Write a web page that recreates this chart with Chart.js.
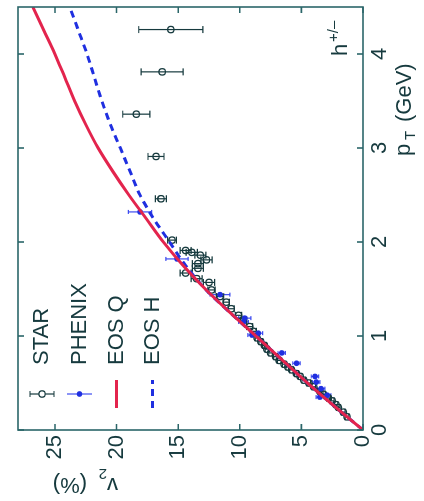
<!DOCTYPE html>
<html>
<head>
<meta charset="utf-8">
<script src="https://cdn.jsdelivr.net/npm/chart.js@4.4.0/dist/chart.umd.min.js"></script>
<style>
html, body { margin: 0; padding: 0; background: #fff; overflow: hidden; width: 424px; height: 501px; }
/* chart is drawn upright (pT across, v2 up) and then turned a quarter left */
#wrap { position: absolute; left: 0; top: 0; width: 501px; height: 424px;
        transform-origin: 0 0; transform: translate(0px, 501px) rotate(-90deg); }
</style>
</head>
<body>
<div id="wrap"><canvas id="v2Chart" width="501" height="424"></canvas></div>
<script>
// hydro curves, sampled on a pT grid (GeV)
const ptGrid = [0, 0.25, 0.5, 0.75, 1.0, 1.25, 1.5, 1.75, 2.0, 2.25, 2.5, 2.75, 3.0, 3.25, 3.5, 3.75, 4.0, 4.25, 4.5];
const eosQ   = [0, 2.3, 4.5, 6.6, 8.7, 10.8, 12.8, 14.6, 16.2, 17.6, 19.0, 20.3, 21.5, 22.5, 23.4, 24.2, 25.0, 25.9, 26.8];
const eosH   = [0, 2.3, 4.5, 6.6, 8.7, 10.8, 12.8, 14.4, 15.7, 17.0, 18.1, 18.9, 19.7, 20.5, 21.2, 21.8, 22.4, 23.1, 23.8];

// STAR h+/- v2 (%)
const starPt  = [0.14, 0.19, 0.24, 0.27, 0.31, 0.34, 0.38, 0.41, 0.46, 0.50, 0.53, 0.57, 0.60, 0.64, 0.67, 0.70, 0.74, 0.78, 0.82, 0.86, 0.90, 0.94, 0.98, 1.05, 1.10, 1.17, 1.22, 1.29, 1.36, 1.42, 1.49, 1.57, 1.61, 1.67, 1.72, 1.77, 1.81, 1.86, 1.89, 1.91, 2.02, 2.46, 2.91, 3.36, 3.81, 4.26];
const starV2  = [1.3, 1.6, 2.0, 2.2, 2.5, 2.8, 3.2, 3.5, 4.0, 4.4, 4.8, 5.1, 5.4, 5.8, 6.1, 6.4, 6.8, 7.1, 7.5, 7.8, 8.0, 8.3, 8.6, 8.9, 9.2, 9.7, 10.1, 10.7, 11.1, 11.6, 12.3, 12.5, 13.5, 14.4, 13.4, 13.4, 12.7, 13.2, 13.9, 14.4, 15.5, 16.4, 16.8, 18.4, 16.3, 15.6];
const starErr = [0.15, 0.15, 0.15, 0.15, 0.15, 0.15, 0.15, 0.15, 0.15, 0.15, 0.15, 0.15, 0.15, 0.15, 0.15, 0.15, 0.15, 0.15, 0.15, 0.15, 0.15, 0.15, 0.15, 0.25, 0.25, 0.25, 0.25, 0.25, 0.25, 0.3, 0.3, 0.45, 0.45, 0.45, 0.45, 0.45, 0.45, 0.45, 0.45, 0.45, 0.35, 0.45, 0.65, 1.1, 1.7, 2.6];

// PHENIX
const phenixPt  = [0.35, 0.37, 0.44, 0.51, 0.57, 0.71, 0.82, 1.01, 1.03, 1.15, 1.19, 1.44, 1.82, 2.32];
const phenixV2  = [3.5, 2.9, 3.4, 3.8, 3.9, 5.4, 6.6, 9.0, 8.5, 9.7, 9.6, 11.6, 15.1, 18.1];
const phenixErr = [0.3, 0.3, 0.3, 0.3, 0.3, 0.3, 0.3, 0.35, 0.35, 0.4, 0.5, 0.8, 0.9, 0.95];

const xTicks = [0, 1, 2, 3, 4];
const yTicks = [0, 5, 10, 15, 20, 25];

const FONT = "'Liberation Sans', Arial, sans-serif";
const INK = "#163a3e";
const FRAME = "#2b6669";
const RED = "#e3244d";
const BLUE = "#1f2fe0";
const BLUE_LT = "#3f4df0";

const pts = (xs, ys) => xs.map((x, i) => ({ x: x, y: ys[i] }));

// vertical error bars with caps, under the markers
const errBars = {
  id: "errBars",
  beforeDatasetsDraw(chart) {
    const ctx = chart.ctx, xs = chart.scales.x, ys = chart.scales.y, a = chart.chartArea;
    ctx.save();
    ctx.beginPath();
    ctx.rect(a.left, a.top, a.right - a.left, a.bottom - a.top);
    ctx.clip();
    chart.data.datasets.forEach(ds => {
      if (!ds.errs) return;
      ctx.strokeStyle = ds.errColor;
      ctx.lineWidth = 1.2;
      ds.data.forEach((p, j) => {
        const e = ds.errs[j];
        const px = xs.getPixelForValue(p.x);
        const y1 = ys.getPixelForValue(p.y - e), y2 = ys.getPixelForValue(p.y + e);
        ctx.beginPath();
        ctx.moveTo(px, y1); ctx.lineTo(px, y2);
        ctx.moveTo(px - ds.cap, y1); ctx.lineTo(px + ds.cap, y1);
        ctx.moveTo(px - ds.cap, y2); ctx.lineTo(px + ds.cap, y2);
        ctx.stroke();
      });
    });
    ctx.restore();
  }
};

// box with inward ticks on all four sides
const frame = {
  id: "frame",
  afterDraw(chart) {
    const ctx = chart.ctx, xs = chart.scales.x, ys = chart.scales.y, a = chart.chartArea;
    ctx.save();
    ctx.strokeStyle = FRAME;
    ctx.lineWidth = 1.6;
    ctx.strokeRect(a.left, a.top, a.right - a.left, a.bottom - a.top);
    ctx.beginPath();
    xTicks.forEach(v => {
      const px = xs.getPixelForValue(v);
      ctx.moveTo(px, a.bottom); ctx.lineTo(px, a.bottom - 6);
      ctx.moveTo(px, a.top); ctx.lineTo(px, a.top + 6);
    });
    yTicks.forEach(v => {
      const py = ys.getPixelForValue(v);
      ctx.moveTo(a.left, py); ctx.lineTo(a.left + 6, py);
      ctx.moveTo(a.right, py); ctx.lineTo(a.right - 6, py);
    });
    ctx.stroke();
    ctx.restore();
  }
};

// axis titles, key and the h+/- tag
const texts = {
  id: "texts",
  afterDraw(chart) {
    const ctx = chart.ctx;
    ctx.save();
    ctx.fillStyle = INK;
    ctx.textBaseline = "alphabetic";
    ctx.textAlign = "left";

    // pT (GeV)
    ctx.font = "22px " + FONT;
    ctx.fillText("p", 345, 410);
    ctx.font = "15px " + FONT;
    ctx.fillText("T", 361, 415);
    ctx.font = "22px " + FONT;
    ctx.fillText("(GeV)", 379, 411);

    // v2 (%) reading upward
    ctx.save();
    ctx.translate(23, 118);
    ctx.rotate(-Math.PI / 2);
    ctx.font = "22px " + FONT;
    ctx.fillText("v", 0, 0);
    ctx.font = "15px " + FONT;
    ctx.fillText("2", 11, 9);
    ctx.font = "22px " + FONT;
    ctx.fillText("(%)", 31, 0);
    ctx.restore();

    // h+/-
    ctx.font = "22px " + FONT;
    ctx.fillText("h", 445, 347);
    ctx.font = "15px " + FONT;
    ctx.fillText("+/\u2013", 459, 338);

    // key
    const sx = 107;
    ctx.lineWidth = 1.2;
    ctx.strokeStyle = INK;
    ctx.beginPath();
    ctx.moveTo(sx, 30); ctx.lineTo(sx, 54);
    ctx.moveTo(sx - 3, 30); ctx.lineTo(sx + 3, 30);
    ctx.moveTo(sx - 3, 54); ctx.lineTo(sx + 3, 54);
    ctx.stroke();
    ctx.beginPath();
    ctx.arc(sx, 42, 3.2, 0, Math.PI * 2);
    ctx.fillStyle = "#fff";
    ctx.fill();
    ctx.lineWidth = 1.3;
    ctx.stroke();

    ctx.strokeStyle = BLUE_LT;
    ctx.lineWidth = 1.2;
    ctx.beginPath();
    ctx.moveTo(sx, 67); ctx.lineTo(sx, 92);
    ctx.stroke();
    ctx.fillStyle = BLUE;
    ctx.beginPath();
    ctx.arc(sx, 79.5, 2.8, 0, Math.PI * 2);
    ctx.fill();

    ctx.strokeStyle = RED;
    ctx.lineWidth = 3;
    ctx.beginPath();
    ctx.moveTo(93, 116.5); ctx.lineTo(121, 116.5);
    ctx.stroke();

    ctx.strokeStyle = BLUE;
    ctx.setLineDash([7, 5]);
    ctx.beginPath();
    ctx.moveTo(93, 152.5); ctx.lineTo(121, 152.5);
    ctx.stroke();
    ctx.setLineDash([]);

    ctx.fillStyle = INK;
    ctx.font = "22px " + FONT;
    ctx.textBaseline = "middle";
    ctx.fillText("STAR", 136, 42);
    ctx.fillText("PHENIX", 136, 79.5);
    ctx.fillText("EOS Q", 136, 116.5);
    ctx.fillText("EOS H", 136, 152.5);
    ctx.restore();
  }
};

const ctx = document.getElementById("v2Chart").getContext("2d");
new Chart(ctx, {
  type: "scatter",
  data: {
    datasets: [
      {
        label: "EOS Q",
        data: pts(ptGrid, eosQ),
        showLine: true,
        borderColor: RED,
        borderWidth: 3,
        pointRadius: 0,
        cubicInterpolationMode: "monotone",
        order: 0
      },
      {
        label: "EOS H",
        data: pts(ptGrid, eosH),
        showLine: true,
        borderColor: BLUE,
        borderWidth: 3,
        borderDash: [7, 5],
        pointRadius: 0,
        cubicInterpolationMode: "monotone",
        order: 1
      },
      {
        label: "PHENIX",
        data: pts(phenixPt, phenixV2),
        errs: phenixErr, errColor: BLUE_LT, cap: 2,
        pointRadius: 2.8,
        backgroundColor: BLUE,
        borderColor: BLUE,
        borderWidth: 0,
        order: 2
      },
      {
        label: "STAR",
        data: pts(starPt, starV2),
        errs: starErr, errColor: INK, cap: 3.5,
        pointRadius: 3.2,
        backgroundColor: "rgba(0,0,0,0)",
        borderColor: INK,
        borderWidth: 1.3,
        order: 3
      }
    ]
  },
  options: {
    responsive: false,
    animation: false,
    events: [],
    layout: { padding: { left: 0, right: 7, top: 18, bottom: 0 } },
    plugins: { legend: { display: false }, tooltip: { enabled: false } },
    scales: {
      x: {
        type: "linear", min: 0, max: 4.5,
        afterBuildTicks: s => { s.ticks = xTicks.map(v => ({ value: v })); },
        afterFit: s => { s.height = 61; s.paddingLeft = 0; s.paddingRight = 0; },
        ticks: { font: { family: FONT, size: 22 }, color: INK, padding: 4, maxRotation: 0 },
        grid: { display: false, drawTicks: false },
        border: { display: false }
      },
      y: {
        type: "linear", min: 0, max: 28,
        afterBuildTicks: s => { s.ticks = yTicks.map(v => ({ value: v })); },
        afterFit: s => { s.width = 71; s.paddingTop = 0; s.paddingBottom = 0; },
        ticks: { font: { family: FONT, size: 22 }, color: INK, padding: 5 },
        grid: { display: false, drawTicks: false },
        border: { display: false }
      }
    }
  },
  plugins: [errBars, frame, texts]
});
</script>
</body>
</html>
